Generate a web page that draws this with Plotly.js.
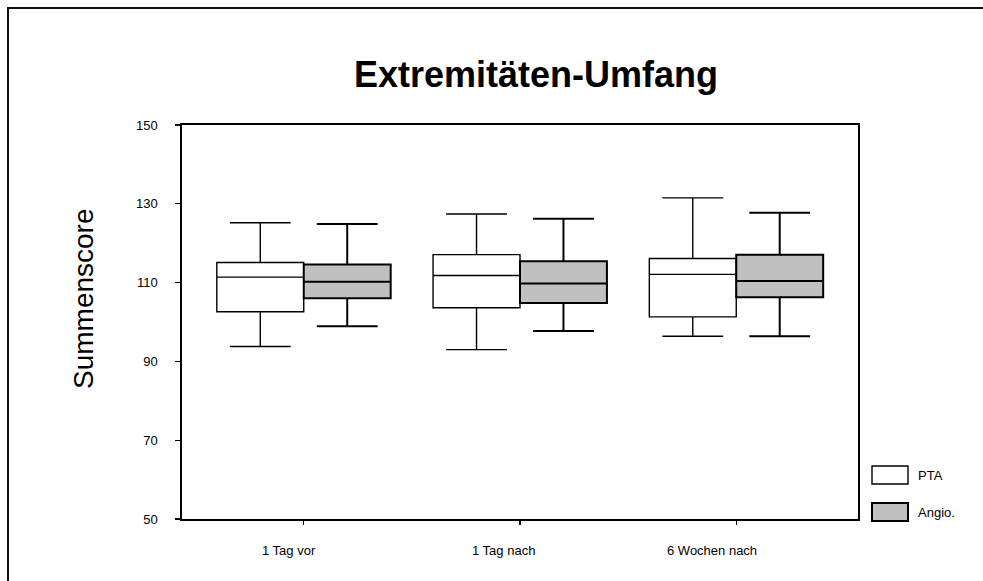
<!DOCTYPE html>
<html><head><meta charset="utf-8">
<script src="https://cdn.plot.ly/plotly-3.0.1.min.js"></script>
<style>html,body{margin:0;padding:0;background:#fff;} #chart{width:983px;height:581px;}</style>
</head><body><div id="chart"></div>
<script>
// ---- data ----
const categories = ["1 Tag vor", "1 Tag nach", "6 Wochen nach"];
const seriesNames = ["PTA", "Angio."];
const ptaLower  = [93.8, 93.0, 96.4];
const ptaQ1     = [102.6, 103.6, 101.3];
const ptaMedian = [111.4, 111.8, 112.1];
const ptaQ3     = [115.1, 117.1, 116.1];
const ptaUpper  = [125.2, 127.4, 131.5];
const angioLower  = [98.9, 97.7, 96.4];
const angioQ1     = [106.0, 104.8, 106.3];
const angioMedian = [110.2, 109.8, 110.4];
const angioQ3     = [114.6, 115.4, 117.1];
const angioUpper  = [124.9, 126.2, 127.7];
const yTicks = [50, 70, 90, 110, 130, 150];
const titleText = "Extremitäten-Umfang";
const yTitleText = "Summenscore";

// ---- layout helpers ----
const W = 983, H = 581;
const M = {l: 182, r: 125, t: 125, b: 62};
const pw = W - M.l - M.r, ph = H - M.t - M.b;
const px = x => (x - M.l) / pw;
const py = y => (H - M.b - y) / ph;
const FONT = "Arial, 'Liberation Sans', sans-serif";

const fills = ["#ffffff", "#c0c0c0"];
const lineW = [1.4, 2];
const xLabelShift = [-15, -17, -24];   // category labels sit slightly left of their ticks

const traces = [
  {type: "box", name: seriesNames[0], x: categories,
   q1: ptaQ1, median: ptaMedian, q3: ptaQ3, lowerfence: ptaLower, upperfence: ptaUpper,
   fillcolor: fills[0], line: {color: "#000", width: lineW[0]},
   whiskerwidth: 0.7, boxpoints: false, showlegend: false, hoverinfo: "skip"},
  {type: "box", name: seriesNames[1], x: categories,
   q1: angioQ1, median: angioMedian, q3: angioQ3, lowerfence: angioLower, upperfence: angioUpper,
   fillcolor: fills[1], line: {color: "#000", width: lineW[1]},
   whiskerwidth: 0.7, boxpoints: false, showlegend: false, hoverinfo: "skip"}
];

const shapes = [
  // outer frame
  {type: "rect", xref: "paper", yref: "paper", x0: px(8), x1: px(995), y0: py(595), y1: py(8),
   line: {color: "#111", width: 2}, fillcolor: "rgba(0,0,0,0)", layer: "below"},
  // legend keys
  {type: "rect", xref: "paper", yref: "paper", x0: px(872), x1: px(908), y0: py(484), y1: py(466),
   line: {color: "#000", width: lineW[0]}, fillcolor: fills[0]},
  {type: "rect", xref: "paper", yref: "paper", x0: px(872), x1: px(908), y0: py(521), y1: py(503),
   line: {color: "#000", width: lineW[1]}, fillcolor: fills[1]}
];

const annotations = [
  {xref: "paper", yref: "paper", x: px(83), y: py(299), text: yTitleText, textangle: -90,
   showarrow: false, xanchor: "center", yanchor: "middle", font: {family: FONT, size: 28, color: "#000"}},
  {xref: "paper", yref: "paper", x: px(916), y: py(475), text: seriesNames[0],
   showarrow: false, xanchor: "left", yanchor: "middle", font: {family: FONT, size: 13, color: "#000"}},
  {xref: "paper", yref: "paper", x: px(916), y: py(512), text: seriesNames[1],
   showarrow: false, xanchor: "left", yanchor: "middle", font: {family: FONT, size: 13, color: "#000"}}
];
categories.forEach((c, i) => annotations.push({
  xref: "x", yref: "paper", x: c, y: py(550), text: c, showarrow: false,
  xanchor: "center", yanchor: "middle", xshift: xLabelShift[i],
  font: {family: FONT, size: 13, color: "#000"}
}));

const layout = {
  width: W, height: H,
  margin: M,
  paper_bgcolor: "#fff", plot_bgcolor: "#fff",
  font: {family: FONT, color: "#000"},
  title: {text: "<b>" + titleText + "</b>", font: {family: FONT, size: 36, color: "#000"},
          x: px(536), xref: "paper", xanchor: "center", y: 1 - 74 / H, yref: "container", yanchor: "middle"},
  boxmode: "group", boxgap: 0.196, boxgroupgap: 0,
  showlegend: false,
  xaxis: {type: "category", range: [-0.563, 2.563], showline: true, mirror: true,
          linecolor: "#000", linewidth: 1.6, ticks: "outside", ticklen: 4, tickwidth: 1.2, tickcolor: "#000",
          showticklabels: false, showgrid: false, zeroline: false, fixedrange: true},
  yaxis: {range: [50, 150], tickmode: "array", tickvals: yTicks, ticktext: yTicks.map(String),
          showline: true, mirror: true, linecolor: "#000", linewidth: 1.6,
          ticks: "outside", ticklen: 5, tickwidth: 1.2, tickcolor: "#000",
          tickfont: {family: FONT, size: 13, color: "#000"}, ticklabelstandoff: 15,
          showgrid: false, zeroline: false, fixedrange: true},
  shapes: shapes,
  annotations: annotations
};

Plotly.newPlot("chart", traces, layout, {staticPlot: true, displayModeBar: false});
</script>
</body></html>
